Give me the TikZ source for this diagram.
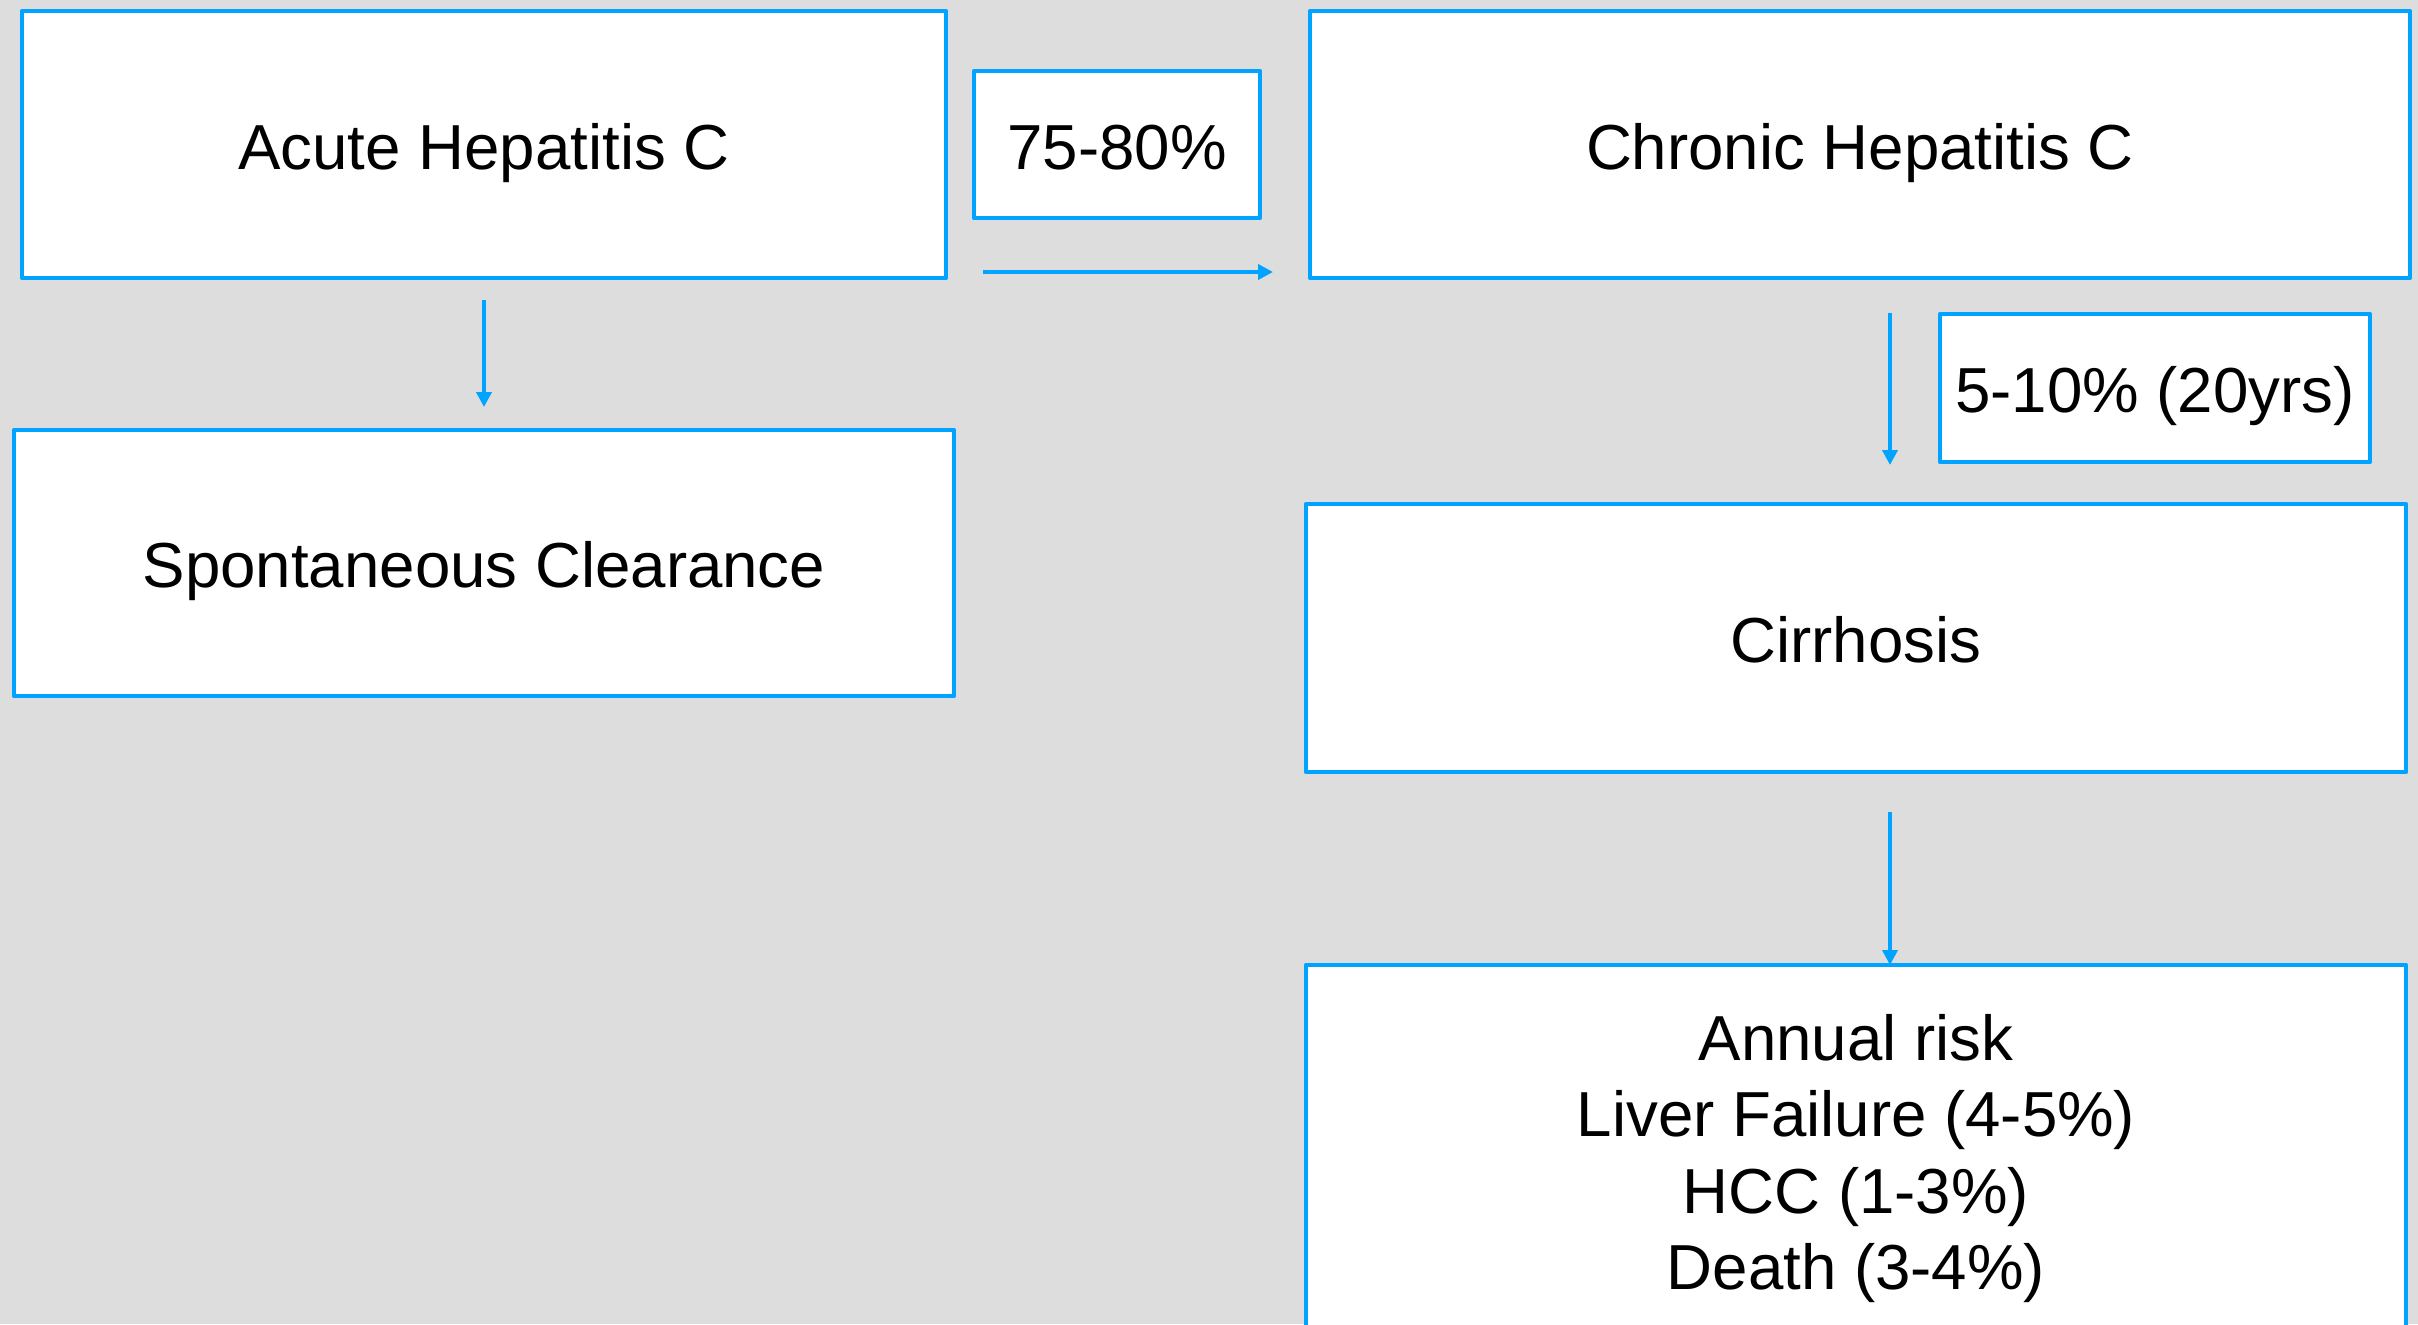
\documentclass[tikz,border=0pt]{standalone}
\usepackage{fontspec}
\setmainfont{Liberation Sans}
\usetikzlibrary{arrows.meta}
\definecolor{bg}{RGB}{221,221,221}
\definecolor{hblue}{RGB}{0,163,255}
\tikzset{
  box/.style={draw=hblue, fill=white, line width=1.25pt, line join=round, inner sep=0pt, outer sep=0pt,
    align=center, font=\fontsize{18.1pt}{21.8pt}\selectfont},
  oneline/.style={text height=0.49cm, text depth=0cm},
  arr/.style={draw=hblue, line width=1.3pt, -{Triangle[length=0.15cm,width=0.15cm]}}
}
\begin{document}
\begin{tikzpicture}
\fill[bg] (0,0) rectangle (24.18,-13.24);
\useasboundingbox (0,0) rectangle (24.18,-13.24);
\begin{scope}
\clip (0,0) rectangle (24.18,-13.24);
\node[box, oneline, minimum width=9.24cm, minimum height=2.67cm] (acute) at (4.84,-1.445) {Acute Hepatitis C};
\node[box, oneline, minimum width=2.86cm, minimum height=1.47cm] (pa) at (11.17,-1.445) {75-80\%};
\node[box, oneline, minimum width=11.00cm, minimum height=2.67cm] (chronic) at (18.60,-1.445) {Chronic Hepatitis C};
\node[box, oneline, minimum width=9.40cm, minimum height=2.66cm] (spont) at (4.84,-5.63) {Spontaneous Clearance};
\node[box, oneline, minimum width=4.30cm, minimum height=1.48cm] (pb) at (21.55,-3.88) {5-10\% (20yrs)};
\node[box, oneline, minimum width=11.00cm, minimum height=2.68cm] (cirr) at (18.56,-6.38) {Cirrhosis};
\node[box, minimum width=11.00cm, minimum height=3.74cm] (annual) at (18.56,-11.52) {\rule{0pt}{0.59cm}Annual risk\\Liver Failure (4-5\%)\\HCC (1-3\%)\\Death (3-4\%)};
\end{scope}
\coordinate (hy) at (0,-2.72);
\coordinate (vx) at (18.90,0);
\draw[arr, shorten <=0.37cm, shorten >=0.37cm] (acute.east |- hy) -- (chronic.west |- hy);
\draw[arr, shorten <=0.22cm, shorten >=0.23cm] (acute.south) -- (spont.north);
\draw[arr, shorten <=0.35cm, shorten >=0.39cm] (chronic.south -| vx) -- (cirr.north -| vx);
\draw[arr, shorten <=0.40cm] (cirr.south -| vx) -- (annual.north -| vx);
\end{tikzpicture}
\end{document}
